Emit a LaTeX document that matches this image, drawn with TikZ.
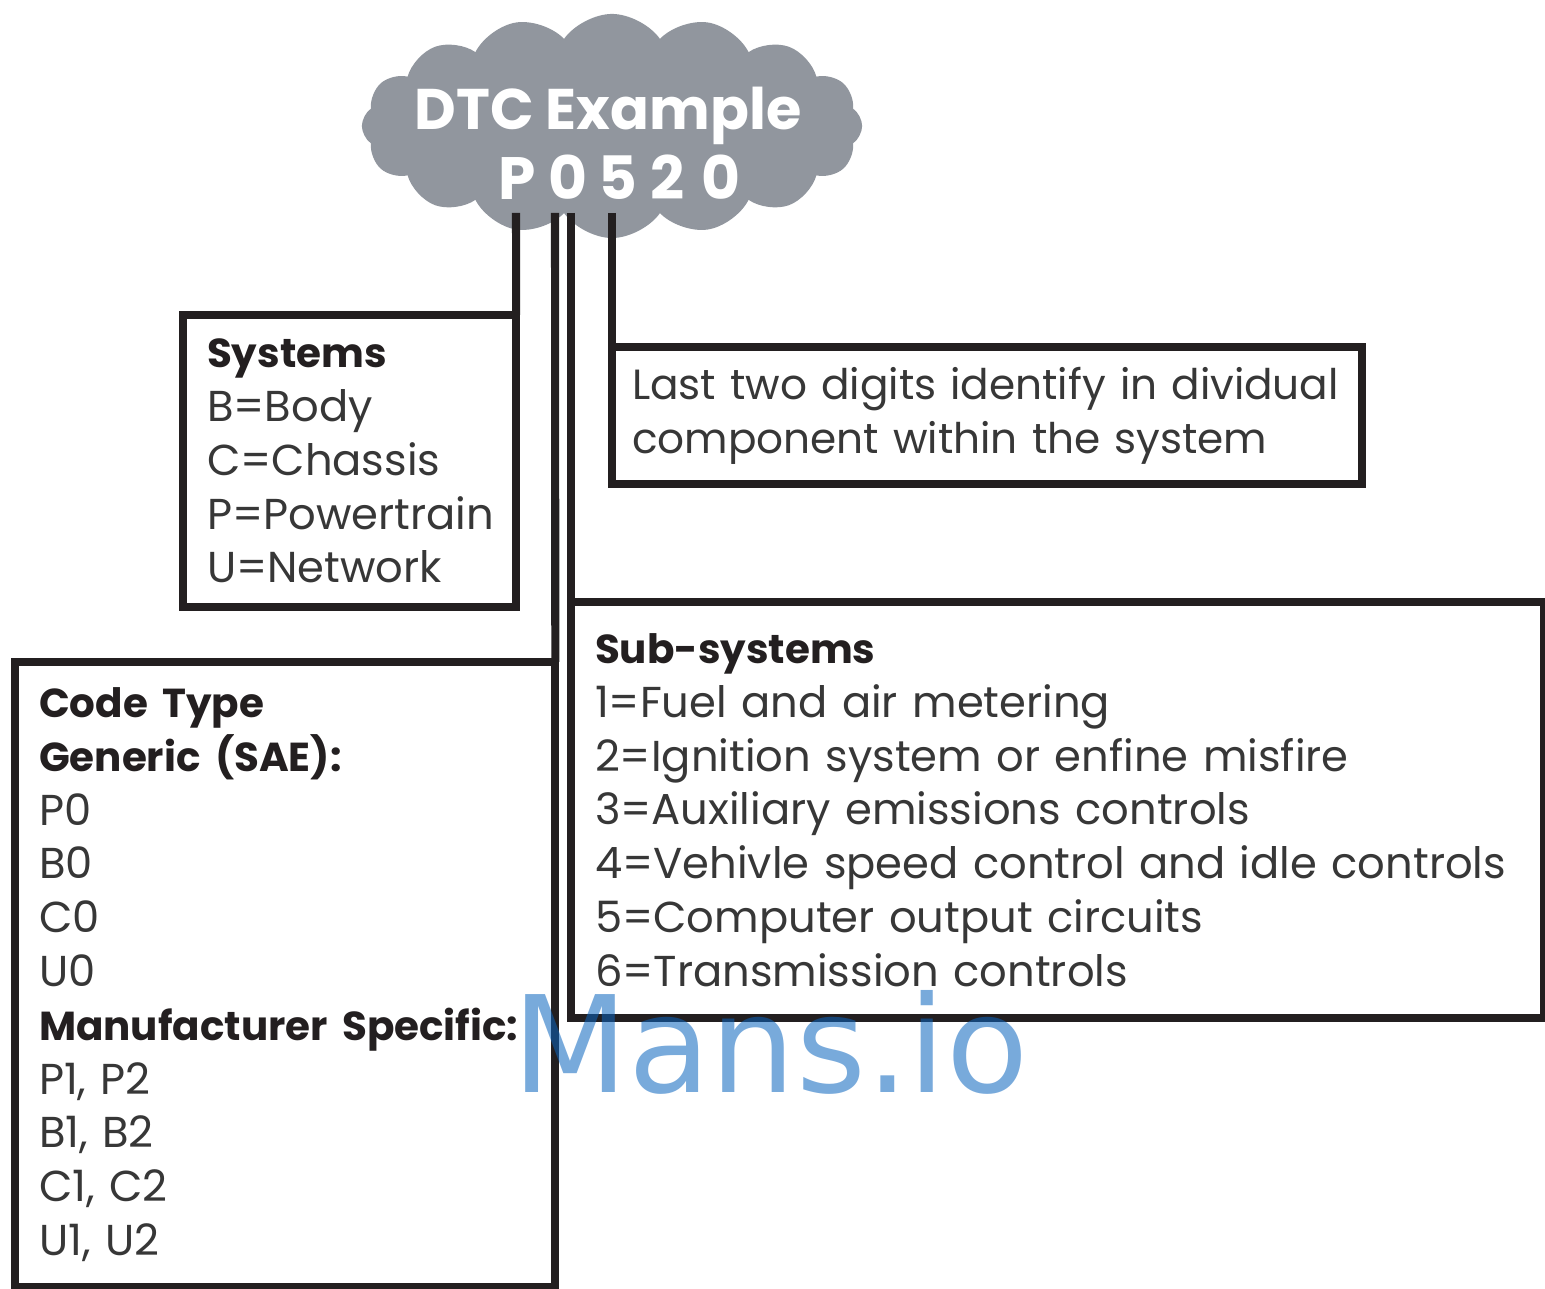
\documentclass[tikz,border=0pt]{standalone}
\usepackage{fontspec}
\setmainfont{Poppins}
\newfontfamily\markfont{DejaVu Sans}
\usepackage{tikz}
\usetikzlibrary{shapes.symbols}
\definecolor{cloudgray}{RGB}{145,150,158}
\definecolor{boxline}{RGB}{35,31,32}
\definecolor{txt}{RGB}{55,55,55}
\definecolor{markblue}{RGB}{10,100,190}
\newcommand{\hd}[1]{{\fontsize{11.5}{15.3}\selectfont\bfseries\color{boxline}#1}}
\hyphenpenalty=10000
\exhyphenpenalty=10000

\begin{document}
\begin{tikzpicture}[x=0.01cm, y=-0.01cm,
  every node/.style={font=\fontsize{12.3}{15.3}\selectfont, text=txt},
  infobox/.style={draw=boxline, line width=2.3pt, anchor=north west, align=left,
    inner xsep=0.24cm, inner ysep=0pt, outer sep=0pt},
  conn/.style={draw=boxline, line width=2.3pt},
  digit/.style={anchor=base, text=white, font=\fontsize{17}{17}\selectfont\bfseries}]
  \useasboundingbox (0,0) rectangle (1545,1289);

  % the code in the cloud
  \node[cloud, cloud puffs=16, cloud puff arc=110, aspect=2.3, fill=cloudgray,
    minimum width=5.0cm, minimum height=2.24cm] (c) at (612,126) {};
  \node[anchor=base, text=white, font=\fontsize{16.3}{16.3}\selectfont\bfseries] (title) at (608,130) {DTC Example};
  \node[digit] (d1) at (517,200) {P};
  \node[digit] (d2) at (568,200) {0};
  \node[digit] (d3) at (618,200) {5};
  \node[digit] (d4) at (668,200) {2};
  \node[digit] (d5) at (721,200) {0};

  \coordinate (p1) at (516,213);
  \coordinate (p2) at (555,213);
  \coordinate (p3) at (571,213);
  \coordinate (p4) at (612,213);

  % boxes
  \node[infobox, minimum width=3.33cm, minimum height=2.92cm, text width=2.85cm] (sys) at (183,315)
    {\hd{Systems}\\B=Body\\C=Chassis\\P=Powertrain\\U=Network};
  \node[infobox, inner xsep=0.2cm, minimum width=7.5cm, minimum height=1.37cm, text width=7.1cm,
    font=\fontsize{12}{15.3}\selectfont] (last) at (612,347)
    {\mbox{Last two digits identify in dividual}\\\mbox{component within the system}};
  \node[infobox, minimum width=9.72cm, minimum height=4.16cm, text width=9.24cm] (sub) at (571,602)
    {\hd{Sub-systems}\\1=Fuel and air metering\\2=Ignition system or enfine misfire\\3=Auxiliary emissions controls\\4=Vehivle speed control and idle controls\\5=Computer output circuits\\6=Transmission controls};
  \node[infobox, minimum width=5.4cm, minimum height=6.25cm, text width=4.92cm] (code) at (15,662)
    {\hd{Code Type}\\\hd{Generic (SAE):}\\P0\\B0\\C0\\U0\\\hd{Manufacturer Specific:}\\P1, P2\\B1, B2\\C1, C2\\U1, U2};

  \draw[conn] (p1) -- (sys.north east);
  \draw[conn] (p2) -- (code.north east);
  \draw[conn] (p3) -- (sub.north west);
  \draw[conn] (p4) -- (last.north west);

  \node[anchor=base west, inner sep=0pt, text=markblue, opacity=0.55,
    font=\fontsize{38.2}{38.2}\selectfont\markfont] (mark) at (512,1093) {Mans.io};
\end{tikzpicture}
\end{document}
